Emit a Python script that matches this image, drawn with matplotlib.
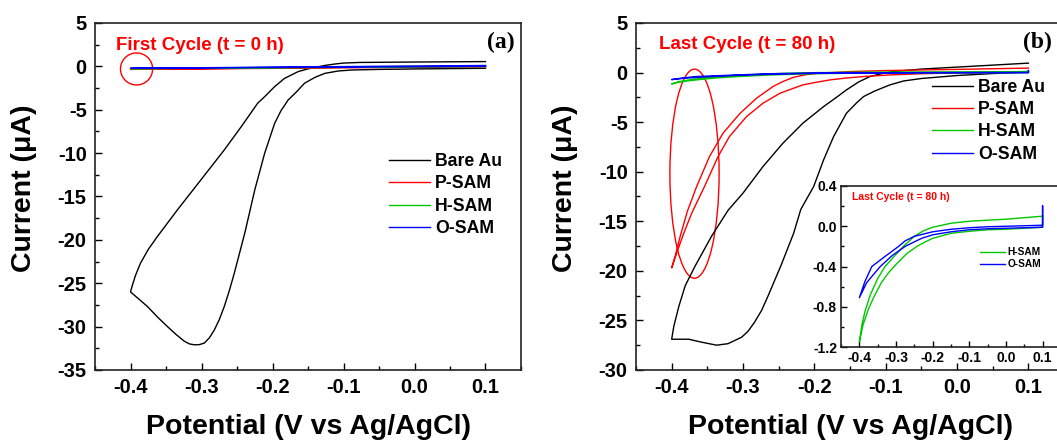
import matplotlib
matplotlib.use("Agg")
import matplotlib.pyplot as plt
from matplotlib.patches import Ellipse
from matplotlib.ticker import MultipleLocator, FormatStrFormatter

plt.rcParams['font.family'] = ['Liberation Sans', 'DejaVu Sans']
plt.rcParams['font.weight'] = 'bold'
plt.rcParams['axes.unicode_minus'] = False

# ---- data ----
# (a) first cycle, Bare Au: scan from 0.1 V down to -0.4 V and back
bare_a_x = [0.1, 0.0, -0.077, -0.1, -0.112, -0.125, -0.14, -0.152, -0.164, -0.183, -0.197, -0.211,
            -0.221, -0.244, -0.268, -0.301, -0.334, -0.362, -0.375, -0.386, -0.393, -0.398, -0.4,
            -0.388, -0.376, -0.362, -0.348, -0.336, -0.324, -0.317, -0.31, -0.303, -0.296, -0.289,
            -0.282, -0.275, -0.268, -0.261, -0.254, -0.239, -0.225, -0.211, -0.197, -0.188, -0.178,
            -0.166, -0.155, -0.14, -0.126, -0.107, -0.088, -0.05, 0.0, 0.1]
bare_a_y = [0.55, 0.5, 0.45, 0.38, 0.27, 0.12, -0.11, -0.33, -0.61, -1.38, -2.34, -3.49,
            -4.26, -6.95, -9.64, -13.1, -16.55, -19.6, -21.1, -22.7, -24.1, -25.4, -26.0,
            -26.85, -27.7, -28.9, -30.0, -30.9, -31.7, -32.0, -32.1, -32.08, -31.9, -31.3,
            -30.4, -29.2, -27.7, -25.9, -23.9, -19.2, -14.25, -10.0, -6.57, -5.1, -3.88,
            -2.92, -1.95, -1.26, -0.8, -0.53, -0.42, -0.35, -0.3, -0.22]
# (a) SAM electrodes: almost flat loops
psam_a_x = [0.1, -0.4, 0.1]
psam_a_y = [0.05, -0.35, -0.05]
hsam_a_x = [0.1, -0.4, 0.1]
hsam_a_y = [0.08, -0.27, -0.02]
osam_a_x = [0.1, -0.4, 0.1]
osam_a_y = [0.1, -0.22, 0.0]

# (b) last cycle, Bare Au
bare_b_x = [0.1, 0.05, 0.0, -0.05, -0.09, -0.105, -0.122, -0.138, -0.155, -0.17, -0.187, -0.216,
            -0.244, -0.272, -0.3, -0.321, -0.344, -0.367, -0.381, -0.39, -0.397, -0.4,
            -0.376, -0.358, -0.337, -0.321, -0.302, -0.293, -0.284, -0.274, -0.265, -0.247,
            -0.229, -0.219, -0.201, -0.187, -0.173, -0.155, -0.14, -0.131, -0.115, -0.094,
            -0.075, -0.05, 0.0, 0.05, 0.1]
bare_b_y = [0.95, 0.75, 0.55, 0.35, 0.1, -0.1, -0.4, -0.95, -1.75, -2.55, -3.43, -5.1,
            -7.12, -9.48, -12.16, -13.9, -16.5, -19.5, -21.5, -23.6, -25.6, -26.9,
            -26.9, -27.2, -27.5, -27.35, -26.7, -26.1, -25.2, -24.0, -22.55, -19.5,
            -16.2, -13.8, -11.5, -8.8, -6.45, -4.1, -3.0, -2.42, -1.85, -1.24,
            -0.85, -0.6, -0.3, -0.1, 0.05]
# (b) P-SAM
psam_b_x = [0.1, 0.0, -0.1, -0.15, -0.2, -0.215, -0.23, -0.244, -0.258, -0.281, -0.304, -0.328,
            -0.347, -0.365, -0.378, -0.388, -0.395, -0.4,
            -0.392, -0.383, -0.372, -0.354, -0.335, -0.319, -0.295, -0.272, -0.248, -0.216,
            -0.195, -0.178, -0.155, -0.131, -0.094, -0.05, 0.0, 0.05, 0.1]
psam_b_y = [0.45, 0.32, 0.2, 0.1, -0.1, -0.25, -0.5, -0.9, -1.41, -2.59, -4.1, -6.12,
            -8.47, -11.5, -14.0, -16.5, -18.5, -19.7,
            -18.0, -16.2, -14.2, -11.5, -8.47, -6.45, -4.44, -3.09, -2.08, -1.24,
            -0.95, -0.74, -0.55, -0.4, -0.24, -0.12, -0.03, 0.03, 0.1]
# (b) H-SAM and O-SAM (same data in the inset)
hsam_b_x = [0.1, 0.05, 0.0, -0.05, -0.1, -0.15, -0.2, -0.225, -0.25, -0.28, -0.31, -0.33, -0.35,
            -0.37, -0.385, -0.393, -0.4,
            -0.39, -0.375, -0.36, -0.34, -0.32, -0.3, -0.27, -0.243, -0.22, -0.2, -0.15, -0.1,
            -0.05, 0.0, 0.05, 0.1, 0.1]
hsam_b_y = [0.1, 0.085, 0.07, 0.06, 0.05, 0.03, -0.01, -0.045, -0.1, -0.2, -0.32, -0.4, -0.52,
            -0.68, -0.85, -0.98, -1.15,
            -0.98, -0.82, -0.7, -0.56, -0.46, -0.38, -0.27, -0.2, -0.155, -0.12, -0.07, -0.05,
            -0.035, -0.03, -0.02, -0.01, 0.1]
osam_b_x = [0.1, 0.1, 0.05, 0.0, -0.05, -0.1, -0.15, -0.2, -0.25, -0.275, -0.293, -0.33, -0.366,
            -0.385, -0.4,
            -0.38, -0.343, -0.31, -0.275, -0.25, -0.23, -0.2, -0.15, -0.1, -0.05, 0.0, 0.05,
            0.1, 0.1]
osam_b_y = [0.2, 0.01, 0.005, 0.0, -0.005, -0.015, -0.03, -0.055, -0.1, -0.145, -0.2, -0.3, -0.4,
            -0.55, -0.71,
            -0.56, -0.4, -0.29, -0.2, -0.155, -0.12, -0.085, -0.055, -0.035, -0.025, -0.02, -0.015,
            -0.01, 0.2]

labels = ["Bare Au", "P-SAM", "H-SAM", "O-SAM"]
colors = ["black", "#ff0000", "#00c800", "#0000ff"]

fig = plt.figure(figsize=(10.57, 4.42), dpi=100)
ax1 = fig.add_axes([0.0899, 0.163, 0.403, 0.785])
ax2 = fig.add_axes([0.6017, 0.163, 0.405, 0.785])
axin = fig.add_axes([0.7957, 0.2149, 0.208, 0.3643])


def style_axes(ax, ymaj, ymin, size, pad, yfmt):
    ax.xaxis.set_major_locator(MultipleLocator(0.1))
    ax.xaxis.set_minor_locator(MultipleLocator(0.05))
    ax.yaxis.set_major_locator(MultipleLocator(ymaj))
    ax.yaxis.set_minor_locator(MultipleLocator(ymin))
    ax.xaxis.set_major_formatter(FormatStrFormatter('%.1f'))
    ax.yaxis.set_major_formatter(FormatStrFormatter(yfmt))
    ax.tick_params(which='both', direction='in', top=False, right=False, width=1.0)
    ax.tick_params(which='major', length=5, labelsize=size, pad=pad)
    ax.tick_params(which='minor', length=3)
    for t in ax.get_xticklabels() + ax.get_yticklabels():
        t.set_fontweight('bold')
    for s in ax.spines.values():
        s.set_linewidth(1.2)
        s.set_color('#222222')


# ---- panel (a) ----
lines_a = []
for x, y, c, lab in zip([bare_a_x, psam_a_x, hsam_a_x, osam_a_x],
                        [bare_a_y, psam_a_y, hsam_a_y, osam_a_y], colors, labels):
    ln, = ax1.plot(x, y, color=c, lw=1.0, label=lab)
    lines_a.append(ln)
ax1.set_xlim(-0.45, 0.15)
ax1.set_ylim(-35, 5)
style_axes(ax1, 5, 2.5, 14.5, 6, '%d')
ax1.add_patch(Ellipse((-0.3915, -0.3), 0.0453, 3.69, fill=False, ec='#ff0000', lw=1.0))
ax1.text(-0.42, 2.46, "First Cycle (t = 0 h)", color='#ff0000', fontsize=13.5,
         fontweight='bold', ha='left', va='center')
ax1.text(0.92, 0.945, "(a)", transform=ax1.transAxes, fontsize=17, fontweight='bold',
         family='Liberation Serif', ha='left', va='center')
ax1.legend(handles=lines_a, loc='upper left', bbox_to_anchor=(0.69, 0.625), frameon=False,
           borderpad=0, borderaxespad=0, handlelength=2.3, handletextpad=0.3, labelspacing=0.3,
           prop={'size': 12.7, 'weight': 'bold'})

# ---- panel (b) ----
lines_b = []
for x, y, c, lab in zip([bare_b_x, psam_b_x, hsam_b_x, osam_b_x],
                        [bare_b_y, psam_b_y, hsam_b_y, osam_b_y], colors, labels):
    ln, = ax2.plot(x, y, color=c, lw=1.0, label=lab)
    lines_b.append(ln)
ax2.set_xlim(-0.45, 0.15)
ax2.set_ylim(-30, 5)
style_axes(ax2, 5, 2.5, 14.5, 6, '%d')
ax2.add_patch(Ellipse((-0.368, -10.2), 0.069, 21.1, fill=False, ec='#ff0000', lw=1.0))
ax2.text(-0.418, 2.78, "Last Cycle (t = 80 h)", color='#ff0000', fontsize=13.5,
         fontweight='bold', ha='left', va='center')
ax2.text(0.904, 0.945, "(b)", transform=ax2.transAxes, fontsize=17, fontweight='bold',
         family='Liberation Serif', ha='left', va='center')
ax2.legend(handles=lines_b, loc='upper left', bbox_to_anchor=(0.692, 0.839), frameon=False,
           borderpad=0, borderaxespad=0, handlelength=2.3, handletextpad=0.3, labelspacing=0.3,
           prop={'size': 12.7, 'weight': 'bold'})

for ax in (ax1, ax2):
    ax.set_xlabel("Potential (V vs Ag/AgCl)", fontsize=20.5, fontweight='bold', va='center')
    ax.set_ylabel("Current (μA)", fontsize=20.5, fontweight='bold', va='center', ha='center')
    ax.xaxis.set_label_coords(0.5, -0.164)
    ax.yaxis.set_label_coords(-0.166, 0.524)

# ---- inset ----
axin.set_zorder(5)
axin.set_facecolor('white')
l_h, = axin.plot(hsam_b_x, hsam_b_y, color=colors[2], lw=1.0, label="H-SAM")
l_o, = axin.plot(osam_b_x, osam_b_y, color=colors[3], lw=1.0, label="O-SAM")
axin.set_xlim(-0.45, 0.15)
axin.set_ylim(-1.2, 0.4)
style_axes(axin, 0.4, 0.2, 10, 3, '%.1f')
axin.tick_params(which='major', length=4)
axin.tick_params(which='minor', length=2)
axin.text(-0.42, 0.29, "Last Cycle (t = 80 h)", color='#ff0000', fontsize=7.5,
          fontweight='bold', ha='left', va='center')
axin.legend(handles=[l_h, l_o], loc='upper left', bbox_to_anchor=(0.632, 0.62), frameon=False,
            borderpad=0, borderaxespad=0, handlelength=2.5, handletextpad=0.2, labelspacing=0.2,
            prop={'size': 7.3, 'weight': 'bold'})

fig.savefig("out.png", dpi=100)
